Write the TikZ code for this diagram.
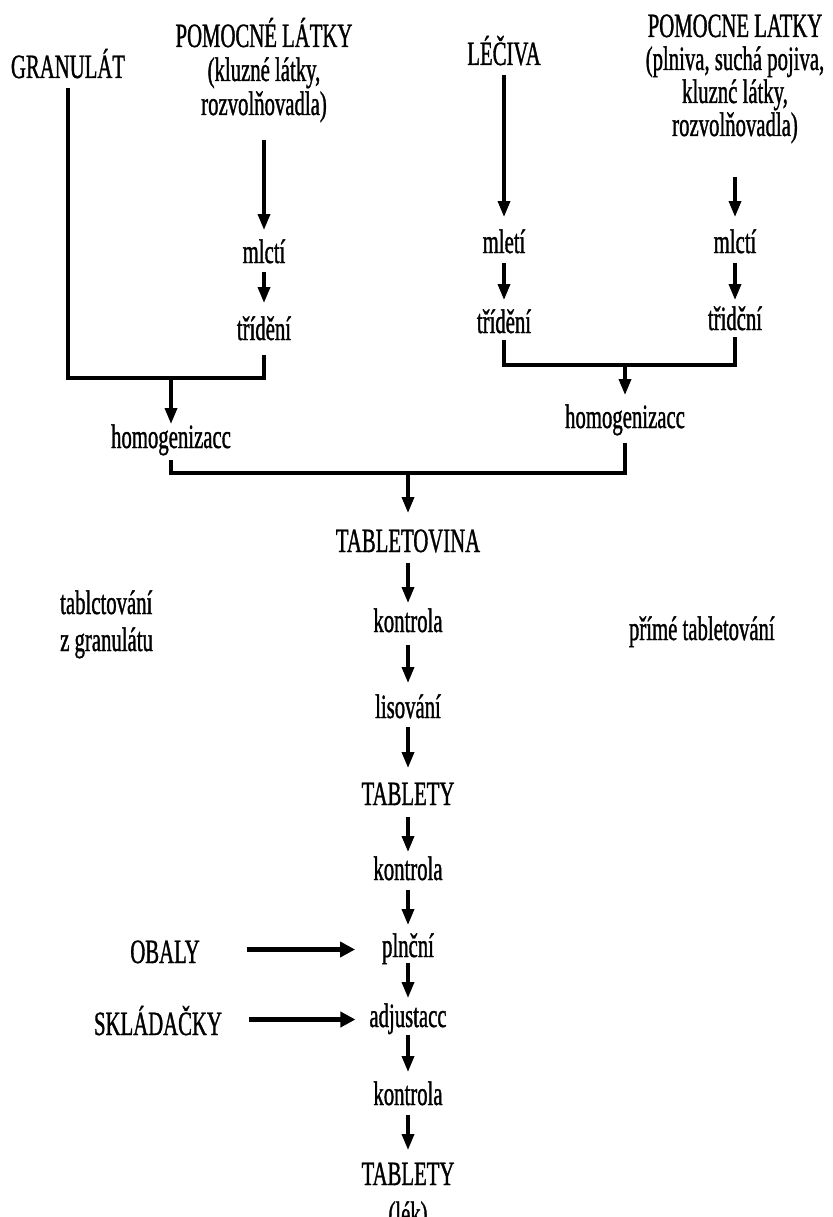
\documentclass[tikz,border=0pt]{standalone}
\usepackage{fontspec}
\setmainfont{Liberation Serif}[FakeStretch=0.61,FakeBold=1.0]
\usetikzlibrary{arrows.meta,calc}
\newcommand{\fl}{\rule{0pt}{32pt}}
\newcommand{\ldp}{\rule[-9pt]{0pt}{9pt}}
\tikzset{
  lbl/.style={inner sep=0pt, outer sep=0pt, text height=24pt, text depth=9pt, anchor=base,
    font=\fontsize{34pt}{34pt}\selectfont},
  blk/.style={inner sep=0pt, outer sep=0pt, align=center, anchor=north,
    font=\fontsize{34pt}{34pt}\selectfont},
  arr/.style={line width=3.5pt, -{Triangle[length=16pt,width=12pt]}},
  harr/.style={line width=5pt, -{Triangle[length=15pt,width=15pt]}},
  ln/.style={line width=3.5pt, line cap=rect, line join=miter}
}
\begin{document}
\begin{tikzpicture}[x=1pt,y=-1pt]
\useasboundingbox (0,0) rectangle (832,1217);
% left branch
\node[lbl] (gran) at (68,78) {GRANULÁT};
\node[blk] (pom1) at (264,15) {\fl POMOCNÉ LÁTKY\\(kluzné látky,\\rozvolňovadla)\ldp};
\node[lbl] (ml1) at (264,263) {mlctí};
\node[lbl] (tr1) at (264,340) {třídění};
\node[lbl] (hom1) at (171,448) {homogenizacc};
% right branch
\node[lbl] (lec) at (504,65) {LÉČIVA};
\node[lbl] (ml2) at (504,253) {mletí};
\node[lbl] (tr2) at (504,333) {třídění};
\node[blk, font=\fontsize{34pt}{33pt}\selectfont] (pom2) at (735,5) {\fl POMOCNE LATKY\\(plniva, suchá pojiva,\\kluznć látky,\\rozvolňovadla)\ldp};
\node[lbl] (ml3) at (735,253) {mlctí};
\node[lbl] (tr3) at (735,330) {třidční};
\node[lbl] (hom2) at (625,428) {homogenizacc};
% centre column
\node[lbl] (tab) at (408,552) {TABLETOVINA};
\node[lbl] (k1) at (408,632) {kontrola};
\node[lbl] (lis) at (408,718) {lisování};
\node[lbl] (tby) at (408,805) {TABLETY};
\node[lbl] (k2) at (408,880) {kontrola};
\node[lbl] (pln) at (408,957) {plnční};
\node[lbl] (adj) at (408,1027) {adjustacc};
\node[lbl] (k3) at (408,1105) {kontrola};
\node[blk] (fin) at (408,1153) {\fl TABLETY\\[6pt](lék)};
% side labels
\node[inner sep=0pt, align=left, anchor=base west, font=\fontsize{34pt}{37pt}\selectfont] (tgr) at (60,651) {tablctování\\z granulátu};
\node[lbl, anchor=base west] (prime) at (629,640) {přímé tabletování};
\node[lbl] (obaly) at (165,963) {OBALY};
\node[lbl] (skl) at (158,1035) {SKLÁDAČKY};
% junction levels
\coordinate (b1) at (0,378);
\coordinate (b2) at (0,365);
\coordinate (b3) at (0,473);
% left branch connectors
\draw[arr, shorten <=16pt, shorten >=9pt] (pom1.south) -- (ml1.north);
\draw[arr, shorten <=0pt, shorten >=13pt] (ml1.south) -- (tr1.north);
\draw[ln, shorten <=3pt, shorten >=8pt] (gran.south) -- (gran.south |- b1) -- (tr1.south |- b1) -- (tr1.south);
\draw[arr] (hom1.north |- b1) -- (hom1.north);
% right branch connectors
\draw[arr, shorten <=1pt, shorten >=12pt] (lec.south) -- (ml2.north);
\draw[arr, shorten <=1pt, shorten >=9pt] (ml2.south) -- (tr2.north);
\draw[arr, shorten <=32pt, shorten >=12pt] (pom2.south) -- (ml3.north);
\draw[arr, shorten <=1pt, shorten >=6pt] (ml3.south) -- (tr3.north);
\draw[ln] (tr2.south) -- (tr2.south |- b2) -- (tr3.south |- b2) -- (tr3.south);
\draw[arr, shorten >=9pt] (hom2.north |- b2) -- (hom2.north);
% merge
\draw[ln, shorten <=5pt, shorten >=8pt] (hom1.south) -- (hom1.south |- b3) -- (hom2.south |- b3) -- (hom2.south);
\draw[arr, shorten >=15pt] (tab.north |- b3) -- (tab.north);
% centre column
\draw[arr, shorten <=2pt, shorten >=5pt] (tab.south) -- (k1.north);
\draw[arr, shorten <=4pt, shorten >=11pt] (k1.south) -- (lis.north);
\draw[arr, shorten <=0pt, shorten >=13pt] (lis.south) -- (tby.north);
\draw[arr, shorten <=3pt, shorten >=4pt] (tby.south) -- (k2.north);
\draw[arr, shorten <=1pt, shorten >=8pt] (k2.south) -- (pln.north);
\draw[arr, shorten <=-3pt, shorten >=5pt] (pln.south) -- (adj.north);
\draw[arr, shorten <=-1pt, shorten >=9pt] (adj.south) -- (k3.north);
\draw[arr, shorten <=1pt, shorten >=3pt] (k3.south) -- (fin.north);
% packaging inputs
\draw[harr, shorten <=47pt, shorten >=27pt] (obaly.east |- pln.west) -- (pln.west);
\draw[harr, shorten <=27pt, shorten >=14pt] (skl.east |- adj.west) -- (adj.west);
\end{tikzpicture}
\end{document}
